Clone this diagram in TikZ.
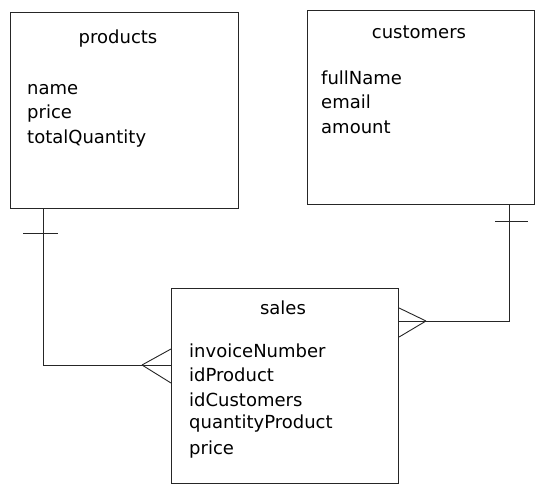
\documentclass[tikz,border=0pt]{standalone}
\usepackage{fontspec}
\setmainfont{DejaVu Sans}
\begin{document}
\begin{tikzpicture}[x=1pt,y=-1pt,
  entity/.style={draw=black!85,line width=1.1pt,fill=white,rectangle,anchor=north west,inner sep=0pt},
  ttl/.style={font=\fontsize{18}{21}\selectfont,inner sep=0pt},
  fld/.style={font=\fontsize{18}{21}\selectfont,anchor=west,inner sep=0pt},
  conn/.style={draw=black!85,line width=0.9pt},
]
\useasboundingbox[fill=white] (0,0) rectangle (544,495);
% boxes
\node[entity,minimum width=228pt,minimum height=196pt] (products) at (10,12) {};
\node[entity,minimum width=227pt,minimum height=194pt] (customers) at (307,10) {};
\node[entity,minimum width=227pt,minimum height=195pt] (sales) at (171,288) {};
% titles
\node[ttl] (tp) at (118,39) {products};
\node[ttl] (tc) at (419,32) {customers};
\node[ttl] (ts) at (283,308) {sales};
% fields
\node[fld] (p1) at (27,90) {name};
\node[fld] (p2) at (27,114) {price};
\node[fld] (p3) at (27,139) {totalQuantity};
\node[fld] (c1) at (321,78) {fullName};
\node[fld] (c2) at (321,102) {email};
\node[fld] (c3) at (321,127) {amount};
\node[fld] (s1) at (189,351) {invoiceNumber};
\node[fld] (s2) at (189,375) {idProduct};
\node[fld] (s3) at (189,400) {idCustomers};
\node[fld] (s4) at (189,424) {quantityProduct};
\node[fld] (s5) at (189,450) {price};
% connector products -> sales
\coordinate (pa) at (products.south west -| 43,0);
\coordinate (sa) at (sales.west |- 0,365);
\coordinate (sf) at (142,365);
\draw[conn] (pa) |- (sa);
\draw[conn] (23,233) -- (58,233);
\draw[conn] (sf) -- (sales.west |- 0,349);
\draw[conn] (sf) -- (sales.west |- 0,383);
% connector customers -> sales
\coordinate (ca) at (customers.south west -| 509,0);
\coordinate (sb) at (sales.east |- 0,321);
\coordinate (sg) at (426,321);
\draw[conn] (ca) |- (sb);
\draw[conn] (495,221) -- (528,221);
\draw[conn] (sg) -- (sales.east |- 0,308);
\draw[conn] (sg) -- (sales.east |- 0,337);
\end{tikzpicture}
\end{document}
